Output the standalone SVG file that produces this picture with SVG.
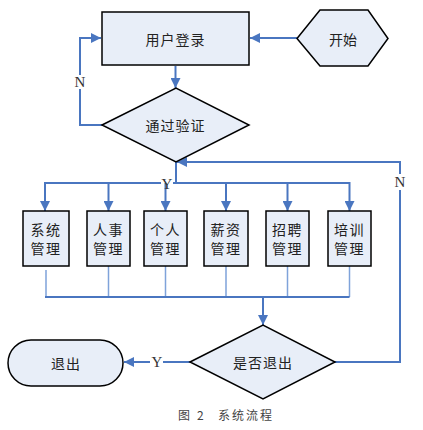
<svg xmlns="http://www.w3.org/2000/svg" width="423" height="430" viewBox="0 0 423 430">
<style>
.n{fill:#E8EEF8;stroke:#000;stroke-width:1.5}
.t{font-family:"Noto Sans CJK SC","Liberation Serif",serif;font-size:14px;fill:#222;text-anchor:middle;dominant-baseline:central}
.l{font-family:"Liberation Serif",serif;font-size:15px;fill:#333;text-anchor:middle;dominant-baseline:central}
.c{fill:none;stroke:#4A76C0;stroke-width:2}
.c1{fill:none;stroke:#7FA3DA;stroke-width:1.5}
.cap{font-family:"Noto Sans CJK SC","Liberation Serif",serif;font-size:12px;fill:#444;dominant-baseline:central}
</style>
<defs>
<marker id="a" markerWidth="10" markerHeight="10" refX="10" refY="5" orient="auto" markerUnits="userSpaceOnUse" viewBox="0 0 10 10">
<path d="M0,0L10,5L0,10Z" fill="#4A76C0"/>
</marker>
</defs>
<rect width="423" height="430" fill="#fff"/>
<g id="connectors">
<path class="c" d="M297,38H250" marker-end="url(#a)"/>
<path class="c" d="M175.5,66V88" marker-end="url(#a)"/>
<path class="c" d="M102,125H80V89"/>
<path class="c" d="M80,75V38H101" marker-end="url(#a)"/>
<path class="c" d="M335,362H400V190"/>
<path class="c" d="M400,174V162H177" marker-end="url(#a)"/>
<path class="c" d="M176,162V183H173"/>
<path class="c" d="M161,183H45V211" marker-end="url(#a)"/>
<path class="c" d="M173,183H349.5V211" marker-end="url(#a)"/>
<path class="c" d="M108.5,183V211" marker-end="url(#a)"/>
<path class="c" d="M165.5,183V211" marker-end="url(#a)"/>
<path class="c" d="M226,183V211" marker-end="url(#a)"/>
<path class="c" d="M287.5,183V211" marker-end="url(#a)"/>
<path class="c1" d="M46,270V297M108.5,266V297M165.5,266V297M226,266V297M287.5,266V297M349.5,266V297"/>
<path class="c" d="M45,297H349.5"/>
<path class="c" d="M263,297V325" marker-end="url(#a)"/>
<path class="c" d="M190,362H163"/>
<path class="c" d="M150,362H124" marker-end="url(#a)"/>
<text class="l" x="80" y="82">N</text>
<text class="l" x="167" y="184">Y</text>
<text class="l" x="400" y="182">N</text>
<text class="l" x="157" y="362">Y</text>
</g>
<g id="start"><polygon class="n" points="297,38.5 320,10 368,10 388,38.5 368,66 320,66"/><text class="t" x="343" y="38.5">开始</text></g>
<g id="login"><rect class="n" x="102" y="12" width="147" height="53" stroke-width="2"/><text class="t" x="175.5" y="38.5" letter-spacing="1">用户登录</text></g>
<g id="verify"><polygon class="n" points="102,125 176,88 249,125 176,162"/><text class="t" x="175.5" y="125" letter-spacing="1">通过验证</text></g>
<g id="m1"><rect class="n" x="23" y="211" width="46" height="55" stroke-width="2"/><text class="t" x="46" y="229" letter-spacing="1.5">系统</text><text class="t" x="46" y="248" letter-spacing="1.5">管理</text></g>
<g id="m2"><rect class="n" x="87" y="211" width="43" height="55" stroke-width="2"/><text class="t" x="108.5" y="229" letter-spacing="1.5">人事</text><text class="t" x="108.5" y="248" letter-spacing="1.5">管理</text></g>
<g id="m3"><rect class="n" x="144" y="211" width="43" height="55" stroke-width="2"/><text class="t" x="165.5" y="229" letter-spacing="1.5">个人</text><text class="t" x="165.5" y="248" letter-spacing="1.5">管理</text></g>
<g id="m4"><rect class="n" x="204" y="211" width="44" height="55" stroke-width="2"/><text class="t" x="226" y="229" letter-spacing="1.5">薪资</text><text class="t" x="226" y="248" letter-spacing="1.5">管理</text></g>
<g id="m5"><rect class="n" x="266" y="211" width="43" height="55" stroke-width="2"/><text class="t" x="287.5" y="229" letter-spacing="1.5">招聘</text><text class="t" x="287.5" y="248" letter-spacing="1.5">管理</text></g>
<g id="m6"><rect class="n" x="328" y="211" width="43" height="55" stroke-width="2"/><text class="t" x="349.5" y="229" letter-spacing="1.5">培训</text><text class="t" x="349.5" y="248" letter-spacing="1.5">管理</text></g>
<g id="quit"><polygon class="n" points="190,362 263,325 335,362 263,399"/><text class="t" x="263" y="362" letter-spacing="1">是否退出</text></g>
<g id="exit"><rect class="n" x="8" y="340" width="115" height="46" rx="23" ry="23"/><text class="t" x="66" y="363" letter-spacing="1">退出</text></g>
<g id="caption"><text class="cap" x="178" y="414">图</text><text class="cap" x="197" y="414">2</text><text class="cap" x="218" y="414" letter-spacing="2">系统流程</text></g>
</svg>
